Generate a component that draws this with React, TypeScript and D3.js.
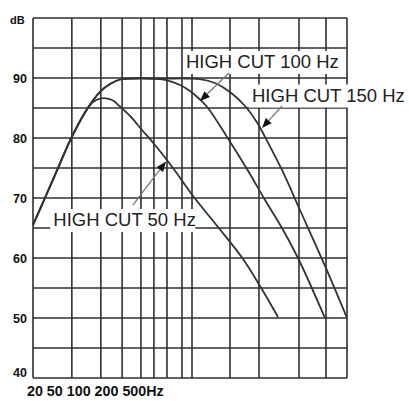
import { scaleLog, scaleLinear, line, curveCatmullRom } from 'd3';

const W = 409;
const H = 401;
const M = { top: 18, right: 62, bottom: 23, left: 33 };

// frequency (Hz), level (dB)
const CUT_150: [number, number][] = [
  [20, 65.5], [26, 70], [34.7, 75], [46.1, 79.9], [65.6, 84.8], [87.3, 87.7], [108.8, 89],
  [135.6, 89.75], [188.6, 89.92], [365, 89.9], [567, 89.92], [788, 89.83], [1096, 89.17],
  [1525, 87.67], [2122, 85.33], [2822, 82.33], [3294, 80.17], [4786, 74.67], [7110, 68],
  [12326, 58.67], [20000, 50],
];
const CUT_100: [number, number][] = [
  [20, 65.5], [26, 70], [34.7, 75], [46.1, 79.9], [65.6, 84.8], [87.3, 87.7], [108.8, 89],
  [135.6, 89.75], [188.6, 89.92], [365, 89.67], [508, 88.83], [632, 87.83], [788, 86.42],
  [940, 85], [1428, 80.17], [2216, 74.83], [3294, 69.67], [4786, 65], [6804, 60],
  [12326, 50],
];
const CUT_50: [number, number][] = [
  [20, 65.5], [26, 70], [34.7, 75], [46.1, 79.9], [65.6, 84.8], [75, 86.0], [87.3, 86.55],
  [99.7, 86.62], [116.3, 86.25], [135.6, 85.25], [169, 83.67], [220, 81.33], [293, 78.83],
  [435, 75], [676, 70.33], [1171, 65.17], [2030, 59.83], [2950, 55.33], [4382, 50.17],
];

const GRID_FREQS = [20, 47, 89, 142, 215, 286, 381, 530, 661, 1525, 2886, 6956, 12602, 20000];
const GRID_DB = [40, 45, 50, 55, 60, 65, 70, 75, 80, 85, 90, 95, 100];
const Y_TICKS = [40, 50, 60, 70, 80, 90];
const X_TICK_LABELS = ['20', '50', '100', '200', '500Hz'];

// label text anchor, arrow tail and arrow tip, all as (Hz, dB)
const LABEL_TEXTS = ['HIGH CUT 100 Hz', 'HIGH CUT 150 Hz', 'HIGH CUT 50 Hz'];
const LABEL_AT: [number, number][] = [[579, 91.67], [2474, 86.08], [31.3, 65.33]];
const ARROW_FROM: [number, number][] = [[1492, 90.83], [4786, 85.33], [180, 68.83]];
const ARROW_TO: [number, number][] = [[788, 86.17], [3083, 81.67], [373, 76.08]];

const INK = '#2f2f2f';
const FONT = 'Liberation Sans, Arial, sans-serif';

export default function App() {
  const x = scaleLog().domain([20, 20000]).range([M.left, W - M.right]);
  const y = scaleLinear().domain([40, 100]).range([H - M.bottom, M.top]);
  const gen = line<[number, number]>()
    .x((d) => x(d[0]))
    .y((d) => y(d[1]))
    .curve(curveCatmullRom.alpha(0.5));

  const x0 = x(20);
  const x1 = x(20000);
  const y0 = y(40);
  const y1 = y(100);

  return (
    <>
      <style>{'body{margin:0}'}</style>
      <svg width={W} height={H} style={{ display: 'block', background: '#fff' }}>
        {GRID_DB.map((v) => (
          <line key={'h' + v} x1={x0} x2={x1} y1={y(v)} y2={y(v)} stroke={INK} strokeWidth={1.6} />
        ))}
        {GRID_FREQS.map((f) => (
          <line key={'v' + f} x1={x(f)} x2={x(f)} y1={y0} y2={y1} stroke={INK} strokeWidth={1.6} />
        ))}

        {/* white panels behind the curve labels hide the grid */}
        {LABEL_TEXTS.map((t, i) => {
          const lx = x(LABEL_AT[i][0]);
          const ly = y(LABEL_AT[i][1]);
          const w = t.length * 10.2 + 2;
          return <rect key={'b' + i} x={lx - 3} y={ly - 17} width={w} height={23} fill="#fff" />;
        })}

        {[CUT_50, CUT_100, CUT_150].map((s, i) => (
          <path key={'c' + i} d={gen(s) ?? ''} fill="none" stroke="#333" strokeWidth={1.8} />
        ))}

        {ARROW_FROM.map((a, i) => {
          const ax = x(a[0]);
          const ay = y(a[1]);
          const bx = x(ARROW_TO[i][0]);
          const by = y(ARROW_TO[i][1]);
          const ang = Math.atan2(by - ay, bx - ax);
          const L = 10;
          const hw = 4;
          const cx = bx - L * Math.cos(ang);
          const cy = by - L * Math.sin(ang);
          const px = -Math.sin(ang) * hw;
          const py = Math.cos(ang) * hw;
          return (
            <g key={'a' + i}>
              <line x1={ax} y1={ay} x2={cx} y2={cy} stroke="#777" strokeWidth={1.3} />
              <polygon points={`${bx},${by} ${cx + px},${cy + py} ${cx - px},${cy - py}`} fill="#111" />
            </g>
          );
        })}

        {LABEL_TEXTS.map((t, i) => (
          <text key={'t' + i} x={x(LABEL_AT[i][0])} y={y(LABEL_AT[i][1])} fontFamily={FONT} fontSize={18.5} fill="#222">
            {t}
          </text>
        ))}

        <text x={10} y={23.5} fontFamily={FONT} fontWeight="bold" fontSize={11} fill="#111">
          dB
        </text>
        {Y_TICKS.map((v) => (
          <text
            key={'y' + v}
            x={27}
            y={y(v) - (v === 40 ? 6 : 0)}
            dy="0.36em"
            textAnchor="end"
            fontFamily={FONT}
            fontWeight="bold"
            fontSize={12.5}
            fill="#111"
          >
            {v}
          </text>
        ))}
        <text x={27} y={396} fontFamily={FONT} fontWeight="bold" fontSize={14.3} fill="#111">
          {X_TICK_LABELS.join(' ')}
        </text>
      </svg>
    </>
  );
}
